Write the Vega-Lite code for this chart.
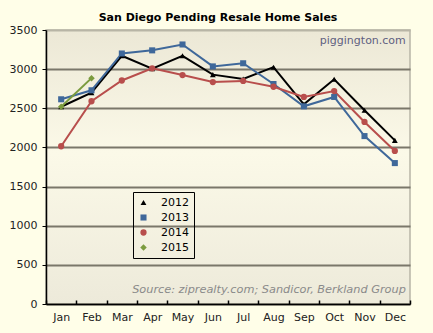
{
  "$schema": "https://vega.github.io/schema/vega-lite/v6.json",
  "autosize": {"type": "none"},
  "width": 364,
  "height": 274,
  "padding": {"left": 46, "top": 30, "right": 23, "bottom": 29},
  "background": "#FFFEE8",
  "config": {
    "font": "DejaVu Sans",
    "view": {
      "stroke": "#B8B5A6",
      "strokeWidth": 1.5,
      "fill": {"gradient": "linear", "x1": 0, "y1": 0, "x2": 0, "y2": 1,
        "stops": [{"offset": 0, "color": "#ECE8D6"}, {"offset": 0.45, "color": "#FBF9E8"}, {"offset": 1, "color": "#EDEADA"}]}
    }
  },
  "title": {"text": "San Diego Pending Resale Home Sales", "fontSize": 11, "fontWeight": "bold", "color": "#000", "offset": 1, "dx": -10, "font": "DejaVu Sans"},
  "data": {"values": [
    {"month": "Jan", "year": "2012", "sales": 2520},
    {"month": "Feb", "year": "2012", "sales": 2700},
    {"month": "Mar", "year": "2012", "sales": 3170},
    {"month": "Apr", "year": "2012", "sales": 3005},
    {"month": "May", "year": "2012", "sales": 3170},
    {"month": "Jun", "year": "2012", "sales": 2930},
    {"month": "Jul", "year": "2012", "sales": 2875},
    {"month": "Aug", "year": "2012", "sales": 3025},
    {"month": "Sep", "year": "2012", "sales": 2550},
    {"month": "Oct", "year": "2012", "sales": 2870},
    {"month": "Nov", "year": "2012", "sales": 2475},
    {"month": "Dec", "year": "2012", "sales": 2090},
    {"month": "Jan", "year": "2013", "sales": 2615},
    {"month": "Feb", "year": "2013", "sales": 2730},
    {"month": "Mar", "year": "2013", "sales": 3200},
    {"month": "Apr", "year": "2013", "sales": 3240},
    {"month": "May", "year": "2013", "sales": 3315},
    {"month": "Jun", "year": "2013", "sales": 3035},
    {"month": "Jul", "year": "2013", "sales": 3075},
    {"month": "Aug", "year": "2013", "sales": 2810},
    {"month": "Sep", "year": "2013", "sales": 2525},
    {"month": "Oct", "year": "2013", "sales": 2645},
    {"month": "Nov", "year": "2013", "sales": 2145},
    {"month": "Dec", "year": "2013", "sales": 1800},
    {"month": "Jan", "year": "2014", "sales": 2015},
    {"month": "Feb", "year": "2014", "sales": 2590},
    {"month": "Mar", "year": "2014", "sales": 2855},
    {"month": "Apr", "year": "2014", "sales": 3010},
    {"month": "May", "year": "2014", "sales": 2925},
    {"month": "Jun", "year": "2014", "sales": 2835},
    {"month": "Jul", "year": "2014", "sales": 2850},
    {"month": "Aug", "year": "2014", "sales": 2775},
    {"month": "Sep", "year": "2014", "sales": 2645},
    {"month": "Oct", "year": "2014", "sales": 2720},
    {"month": "Nov", "year": "2014", "sales": 2325},
    {"month": "Dec", "year": "2014", "sales": 1955},
    {"month": "Jan", "year": "2015", "sales": 2520},
    {"month": "Feb", "year": "2015", "sales": 2885}
  ]},
  "encoding": {
    "x": {"field": "month", "type": "ordinal", "sort": ["Jan","Feb","Mar","Apr","May","Jun","Jul","Aug","Sep","Oct","Nov","Dec"],
      "scale": {"type": "band", "paddingInner": 0, "paddingOuter": 0},
      "axis": {"title": null, "labelAngle": 0, "labelFontSize": 11, "labelColor": "#222", "domainColor": "#000", "domainWidth": 1.5,
        "tickBand": "extent", "tickSize": -4, "tickColor": "#000", "tickWidth": 1.5, "labelPadding": 11, "grid": false}},
    "y": {"field": "sales", "type": "quantitative",
      "scale": {"domain": [0, 3500], "nice": false},
      "axis": {"title": null, "format": "d", "values": [0,500,1000,1500,2000,2500,3000,3500], "labelFontSize": 11, "labelColor": "#222",
        "domainColor": "#000", "domainWidth": 1.5, "tickColor": "#000", "tickSize": 4, "labelPadding": 5,
        "gridColor": {"condition": {"test": "datum.value === 3500", "value": "#B8B5A6"}, "value": "#7A776A"},
        "gridWidth": 2, "gridOpacity": 1}}
  },
  "layer": [
    {"mark": {"type": "line", "strokeWidth": 2},
     "encoding": {
      "color": {"field": "year", "type": "nominal",
        "scale": {"domain": ["2012","2013","2014","2015"], "range": ["#000000","#3F689A","#B84E4C","#7B9B3E"]},
        "legend": {
        "orient": "none", "legendX": 87, "legendY": 162, "title": null,
        "strokeColor": "#000", "fillColor": null, "padding": 5, "rowPadding": 3,
        "labelFontSize": 11, "labelColor": "#000", "labelOffset": 12,
        "symbolSize": 484, "symbolStrokeWidth": 0, "symbolType": "M-1,-0.1L1,-0.1L1,0.1L-1,0.1Z",
        "encode": {"symbols": {"update": {
          "shape": {"signal": "datum.value === '2012' ? 'M-1,-0.06L1,-0.06L1,0.06L-1,0.06ZM-0.3,0.25L0,-0.3L0.3,0.25Z' : datum.value === '2013' ? 'M-1,-0.06L1,-0.06L1,0.06L-1,0.06ZM-0.26,-0.26L0.26,-0.26L0.26,0.26L-0.26,0.26Z' : datum.value === '2014' ? 'M-1,-0.06L1,-0.06L1,0.06L-1,0.06ZM-0.29,0A0.29,0.29 0 1,0 0.29,0A0.29,0.29 0 1,0 -0.29,0Z' : 'M-1,-0.06L1,-0.06L1,0.06L-1,0.06ZM0,-0.3L0.26,0L0,0.3L-0.26,0Z'"},
          "size": {"value": 484},
          "fill": {"scale": "color", "field": "value"},
          "fillOpacity": {"value": 1},
          "strokeWidth": {"value": 0}
        }}}
      }}
     }},
    {"mark": {"type": "point", "filled": true, "opacity": 1},
     "encoding": {
       "color": {"field": "year", "type": "nominal", "legend": null},
       "shape": {"field": "year", "type": "nominal", "legend": null,
         "scale": {"domain": ["2012","2013","2014","2015"], "range": ["triangle-up","square","circle","diamond"]}},
       "size": {"field": "year", "type": "nominal", "legend": null,
         "scale": {"domain": ["2012","2013","2014","2015"], "range": [34, 42, 42, 34]}}
     }},
    {"data": {"values": [{"label": "piggington.com", "month": "Dec", "sales": 3355}]},
     "mark": {"type": "text", "align": "right", "baseline": "middle", "fontSize": 11, "fill": "#5F5F80", "dx": 11},
     "encoding": {"text": {"field": "label"}}},
    {"data": {"values": [{"label": "Source: ziprealty.com; Sandicor, Berkland Group", "month": "Dec", "sales": 180}]},
     "mark": {"type": "text", "align": "right", "baseline": "middle", "fontSize": 11.3, "fontStyle": "italic", "fill": "#8A8A8A", "dx": 11},
     "encoding": {"text": {"field": "label"}}}
  ]
}
